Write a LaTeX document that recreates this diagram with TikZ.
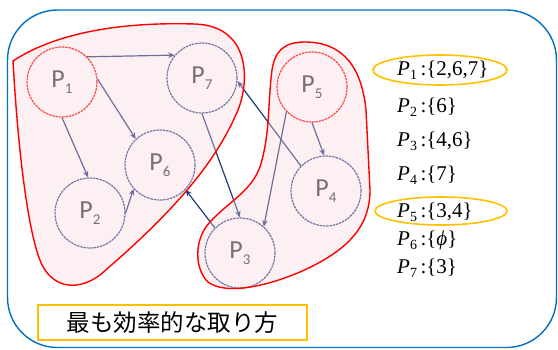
\documentclass[tikz,border=0pt]{standalone}
\usepackage{fontspec}
\setmainfont{Liberation Serif}
\newfontfamily\labfont{Carlito}
\newfontfamily\jpfont{Noto Sans CJK JP}
\usetikzlibrary{arrows.meta,shapes.geometric}
\definecolor{frameblue}{HTML}{0070C0}
\definecolor{navy}{HTML}{1F3A78}
\definecolor{ringblue}{HTML}{2A4585}
\definecolor{regionpink}{RGB}{250,212,220}
\definecolor{boxorange}{HTML}{FFC000}
\definecolor{labgray}{HTML}{383838}
\tikzset{
 proc/.style={circle, minimum size=70pt, inner sep=0pt, draw=ringblue, line width=1.2pt, dash pattern=on 2.5pt off 0.8pt, text=labgray},
 startproc/.style={proc, draw=red},
 dep/.style={draw=navy, line width=1.2pt, -{Stealth[length=6.5pt,width=5.5pt]}},
 region/.style={fill=regionpink, fill opacity=0.35, draw=red, line width=1.4pt},
 setlabel/.style={anchor=base west, inner sep=0pt, font=\fontsize{21}{21}\selectfont},
 pick/.style={draw=boxorange, line width=1.6pt},
}
\newcommand{\plab}[1]{{\labfont\fontsize{26}{26}\selectfont P\raisebox{-6pt}{\fontsize{15}{15}\selectfont #1}}}
\newcommand{\srow}[2]{\textit{P}\raisebox{-4.5pt}{\fontsize{14}{14}\selectfont #1}\hspace{3.5pt}:\{#2\}}
\begin{document}
\begin{tikzpicture}[x=1pt,y=-1pt]
\useasboundingbox (0,0) rectangle (558,349);
\draw[frameblue, line width=1.4pt, rounded corners=50pt] (7.5,10) rectangle (556.5,347.5);
% process nodes
\node[startproc] (P1) at (62,82) {\plab{1}};
\node[proc] (P7) at (202,78) {\plab{7}};
\node[proc] (P6) at (160,165) {\plab{6}};
\node[proc] (P2) at (90,213) {\plab{2}};
\node[proc] (P3) at (240,253) {\plab{3}};
\node[startproc] (P5) at (312,87) {\plab{5}};
\node[proc] (P4) at (326,191) {\plab{4}};
% dependencies
\draw[dep] (P1.45) -- (P7.140);
\draw[dep] (P1.5) -- (P6.133);
\draw[dep] (P1.270) -- (P2.93);
\draw[dep] (P2.0) -- (P6.222);
\draw[dep] (P7.270) -- (P3.90);
\draw[dep] (P4.135) -- (P7.-5);
\draw[dep] (P3.135) -- (P6.-44);
\draw[dep] (P5.270) -- (P4.93);
\draw[dep] (P5.224) -- (P3.48);
% groups
\path[region] (13,61) .. controls (60,30) and (130,22) .. (195,24)
  .. controls (250,26) and (250,80) .. (238,110)
  .. controls (215,165) and (170,215) .. (100,275)
  .. controls (80,290) and (55,290) .. (42,265)
  .. controls (28,235) and (18,150) .. (13,61) -- cycle;
\path[region] (370,190) .. controls (370,225) and (350,250) .. (300,272)
  .. controls (265,287) and (225,295) .. (208,282)
  .. controls (195,270) and (193,240) .. (210,222)
  .. controls (230,200) and (255,190) .. (262,160)
  .. controls (270,130) and (268,100) .. (272,70)
  .. controls (275,50) and (285,42) .. (305,42)
  .. controls (345,42) and (362,70) .. (366,110) -- cycle;
% dependency sets
\node[setlabel] (s1) at (397,75) {\srow{1}{2,6,7}};
\node[setlabel] (s2) at (397,112) {\srow{2}{6}};
\node[setlabel] (s3) at (397,146) {\srow{3}{4,6}};
\node[setlabel] (s4) at (397,180) {\srow{4}{7}};
\node[setlabel] (s5) at (397,217) {\srow{5}{3,4}};
\node[setlabel] (s6) at (397,245) {\srow{6}{\textit{ϕ}}};
\node[setlabel] (s7) at (397,273) {\srow{7}{3}};
\node[pick, ellipse, minimum width=134pt, minimum height=30pt] (e1) at (440,70) {};
\node[pick, ellipse, minimum width=132pt, minimum height=28pt] (e5) at (441,211) {};
\node[pick, minimum width=269pt, minimum height=35pt, inner sep=0pt, font=\jpfont\fontsize{23.5}{23.5}\selectfont] (best) at (172.5,322.5) {最も効率的な取り方};
\end{tikzpicture}
\end{document}
